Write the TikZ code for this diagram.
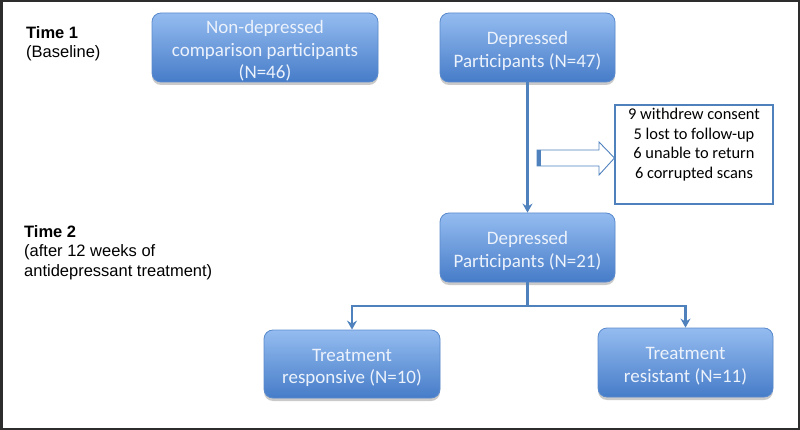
\documentclass[tikz,border=0pt]{standalone}
\usepackage{fontspec}
\setmainfont{Carlito}
\newfontfamily\arialf{Liberation Sans}
\usetikzlibrary{arrows.meta,shadows}
\definecolor{lineblue}{RGB}{79,129,189}
\definecolor{boxtop}{RGB}{148,188,240}
\definecolor{boxbot}{RGB}{70,124,200}
\definecolor{boxedge}{RGB}{90,138,205}
\definecolor{boxtext}{RGB}{236,242,252}
\definecolor{frame}{RGB}{45,45,45}
\newcommand\boxup{\rule{0pt}{20pt}}
\tikzset{
  bluebox/.style={rounded corners=9pt, draw=boxedge, line width=0.8pt,
    top color=boxtop, bottom color=boxbot, text=boxtext, align=center,
    font=\fontsize{19}{22.5}\selectfont,
    drop shadow={shadow xshift=0pt, shadow yshift=-3pt, opacity=0.35, fill=black!60},
    inner sep=0pt},
  conn/.style={draw=lineblue, line width=2.4pt},
  arr/.style={conn, -{Stealth[length=9pt,width=10pt,inset=3pt]}},
  timelbl/.style={font=\arialf\fontsize{16.5}{19.5}\selectfont, align=left, anchor=north west, inner sep=0pt},
}
\begin{document}
\begin{tikzpicture}[x=1pt,y=-1pt]
\useasboundingbox (0,0) rectangle (800,430);
\draw[frame, line width=2.5pt] (1.25,1.25) rectangle (798.75,428.75);

\node[timelbl] (t1) at (26,26) {\textbf{Time 1}\\(Baseline)};
\node[timelbl] (t2) at (24,225) {\textbf{Time 2}\\(after 12 weeks of\\antidepressant treatment)};

\node[bluebox, minimum width=226pt, minimum height=69pt] (b1) at (265,47.5)
  {\boxup Non-depressed\\comparison participants\\(N=46)};
\node[bluebox, minimum width=175pt, minimum height=69pt] (b2) at (527.5,47.5)
  {\boxup Depressed\\Participants (N=47)};
\node[bluebox, minimum width=175pt, minimum height=69pt] (b3) at (527.5,247.5)
  {\boxup Depressed\\Participants (N=21)};
\node[bluebox, minimum width=176pt, minimum height=68pt] (b4) at (352,364)
  {\boxup Treatment\\responsive (N=10)};
\node[bluebox, minimum width=175pt, minimum height=69pt] (b5) at (685.5,362.5)
  {\boxup Treatment\\resistant (N=11)};

\node[draw=lineblue, line width=1.1pt, minimum width=158pt, minimum height=99pt, inner sep=0pt] (wd) at (694,154.5) {};
\node[anchor=north, align=center, inner sep=0pt, font=\fontsize{16.4}{19.5}\selectfont] (wdt) at (694,108)
  {9 withdrew consent\\5 lost to follow-up\\6 unable to return\\6 corrupted scans};

% block arrow
\draw[lineblue, line width=0.9pt, fill=white] (537,150) -- (599,150) -- (599,142) -- (wd.west |- 0,158) -- (599,175) -- (599,166) -- (537,166) -- cycle;
\fill[lineblue] (537,150) rectangle (541,166);

\draw[arr] (b2) -- (b3);
\coordinate (j) at (527.5,306);
\draw[conn] (b3) -- (j);
\draw[arr] (j) -| (b4);
\draw[arr] (j) -| (b5);
\end{tikzpicture}
\end{document}
